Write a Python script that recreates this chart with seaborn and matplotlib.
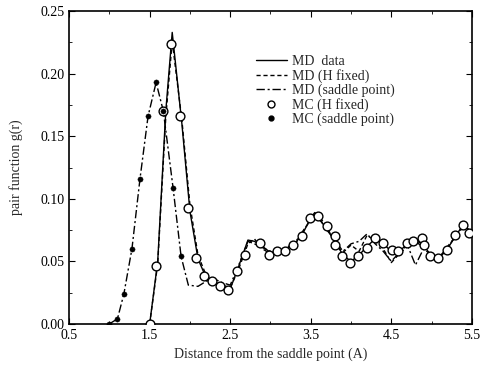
import matplotlib
matplotlib.use("Agg")
import matplotlib.pyplot as plt
import seaborn as sns
import numpy as np
import pandas as pd
from matplotlib.ticker import MultipleLocator
from matplotlib.lines import Line2D

# ---- data ----
md_x = [1.5, 1.6, 1.7, 1.78, 1.9, 2.0, 2.1, 2.2, 2.3, 2.4, 2.5, 2.6, 2.72, 2.8, 2.9, 3.0,
        3.1, 3.2, 3.3, 3.4, 3.5, 3.55, 3.6, 3.7, 3.8, 3.9, 4.0, 4.1, 4.2, 4.3, 4.4, 4.5,
        4.6, 4.7, 4.8, 4.9, 5.0, 5.1, 5.2, 5.3, 5.4, 5.5]
md_data = [0.0, 0.05, 0.17, 0.233, 0.16, 0.09, 0.052, 0.037, 0.033, 0.030, 0.028, 0.045,
           0.067, 0.066, 0.062, 0.057, 0.058, 0.060, 0.064, 0.072, 0.085, 0.089, 0.084,
           0.076, 0.066, 0.055, 0.050, 0.055, 0.062, 0.068, 0.064, 0.058, 0.058, 0.064,
           0.067, 0.063, 0.054, 0.053, 0.060, 0.071, 0.079, 0.073]
md_hfixed = [0.0, 0.048, 0.165, 0.226, 0.163, 0.095, 0.055, 0.039, 0.034, 0.031, 0.029, 0.043,
             0.064, 0.068, 0.060, 0.056, 0.059, 0.061, 0.063, 0.074, 0.083, 0.087, 0.086,
             0.078, 0.064, 0.057, 0.063, 0.058, 0.071, 0.066, 0.060, 0.049, 0.056, 0.062,
             0.066, 0.061, 0.055, 0.052, 0.062, 0.070, 0.080, 0.072]
mds_x = [1.0, 1.1, 1.18, 1.28, 1.38, 1.48, 1.58, 1.67, 1.79, 1.89, 1.98, 2.1, 2.2, 2.3,
         2.4, 2.5, 2.6, 2.72, 2.8, 2.9, 3.0, 3.1, 3.2, 3.3, 3.4, 3.5, 3.55, 3.6, 3.7, 3.8,
         3.9, 4.0, 4.1, 4.2, 4.3, 4.4, 4.5, 4.6, 4.7, 4.8, 4.9, 5.0, 5.1, 5.2, 5.3, 5.4, 5.5]
md_saddle = [0.0, 0.004, 0.024, 0.060, 0.116, 0.166, 0.193, 0.170, 0.109, 0.054, 0.031,
             0.030, 0.034, 0.036, 0.033, 0.031, 0.046, 0.066, 0.064, 0.061, 0.058, 0.057,
             0.061, 0.065, 0.073, 0.084, 0.088, 0.085, 0.075, 0.067, 0.058, 0.064, 0.066,
             0.072, 0.064, 0.058, 0.050, 0.057, 0.063, 0.047, 0.060, 0.055, 0.054, 0.061,
             0.070, 0.078, 0.074]
mch_x = [1.5, 1.58, 1.67, 1.77, 1.88, 1.98, 2.08, 2.17, 2.27, 2.37, 2.47, 2.58, 2.68, 2.87,
         2.98, 3.08, 3.18, 3.28, 3.39, 3.49, 3.59, 3.70, 3.80, 3.80, 3.89, 3.99, 4.09, 4.20,
         4.30, 4.40, 4.51, 4.58, 4.69, 4.77, 4.88, 4.90, 4.98, 5.08, 5.19, 5.29, 5.39, 5.47]
mc_hfixed = [0.0, 0.046, 0.170, 0.224, 0.166, 0.093, 0.053, 0.038, 0.034, 0.030, 0.027,
             0.042, 0.055, 0.065, 0.055, 0.058, 0.058, 0.063, 0.070, 0.085, 0.086, 0.078,
             0.070, 0.063, 0.054, 0.049, 0.054, 0.061, 0.069, 0.065, 0.059, 0.058, 0.065,
             0.066, 0.069, 0.063, 0.054, 0.053, 0.059, 0.071, 0.079, 0.073]
mcs_x = [1.0, 1.1, 1.18, 1.28, 1.38, 1.48, 1.58, 1.67, 1.79, 1.89]
mc_saddle = [0.0, 0.004, 0.024, 0.060, 0.116, 0.166, 0.193, 0.170, 0.109, 0.054]

x_ticks = [0.5, 1.5, 2.5, 3.5, 4.5, 5.5]
y_ticks = [0.00, 0.05, 0.10, 0.15, 0.20, 0.25]

# ---- style ----
sns.set_style("ticks")
plt.rcParams['font.family'] = ['Liberation Serif', 'DejaVu Serif']

fig = plt.figure(figsize=(4.8, 3.71), dpi=100)
ax = fig.add_axes([0.144, 0.127, 0.839, 0.843])

k = 'black'
sns.lineplot(x=md_x, y=md_data, ax=ax, color=k, lw=1.0, sort=False, estimator=None)
sns.lineplot(x=md_x, y=md_hfixed, ax=ax, color=k, lw=1.0, sort=False, estimator=None,
             linestyle=(0, (3, 2)))
sns.lineplot(x=mds_x, y=md_saddle, ax=ax, color=k, lw=1.0, sort=False, estimator=None,
             linestyle=(0, (6, 2, 1.5, 2)))
sns.scatterplot(x=mch_x, y=mc_hfixed, ax=ax, marker='o', s=40, facecolor='white',
                edgecolor=k, linewidth=1.0, zorder=5)
sns.scatterplot(x=mcs_x, y=mc_saddle, ax=ax, marker='o', s=14, color=k,
                edgecolor=k, zorder=6)

ax.set_xlim(0.5, 5.5)
ax.set_ylim(0.0, 0.25)
ax.set_xticks(x_ticks)
ax.set_xticklabels([f"{v:.1f}" for v in x_ticks])
ax.set_yticks(y_ticks)
ax.set_yticklabels([f"{v:.2f}" for v in y_ticks])
ax.xaxis.set_minor_locator(MultipleLocator(0.5))
ax.yaxis.set_minor_locator(MultipleLocator(0.025))
ax.tick_params(which='both', direction='in', top=True, right=True, labelsize=10, colors=k)
ax.tick_params(which='major', length=4)
ax.tick_params(which='minor', length=2.5)
for s in ax.spines.values():
    s.set_linewidth(1.2)
    s.set_color(k)

ax.set_xlabel("Distance from the saddle point (A)", fontsize=10, labelpad=4)
ax.set_ylabel("pair function g(r)", fontsize=10, labelpad=12)

handles = [
    Line2D([], [], color=k, lw=1.0),
    Line2D([], [], color=k, lw=1.0, linestyle=(0, (3, 2))),
    Line2D([], [], color=k, lw=1.0, linestyle=(0, (6, 2, 1.5, 2))),
    Line2D([], [], color=k, lw=0, marker='o', markersize=5, markerfacecolor='white',
           markeredgecolor=k),
    Line2D([], [], color=k, lw=0, marker='o', markersize=3.5, markerfacecolor=k,
           markeredgecolor=k),
]
labels = ["MD  data", "MD (H fixed)", "MD (saddle point)", "MC (H fixed)", "MC (saddle point)"]
ax.legend(handles, labels, loc='upper left', bbox_to_anchor=(0.44, 0.89), frameon=False,
          fontsize=10, handlelength=2.2, handletextpad=0.4, labelspacing=0.05,
          borderpad=0.2)

fig.savefig("out.png", dpi=100)
